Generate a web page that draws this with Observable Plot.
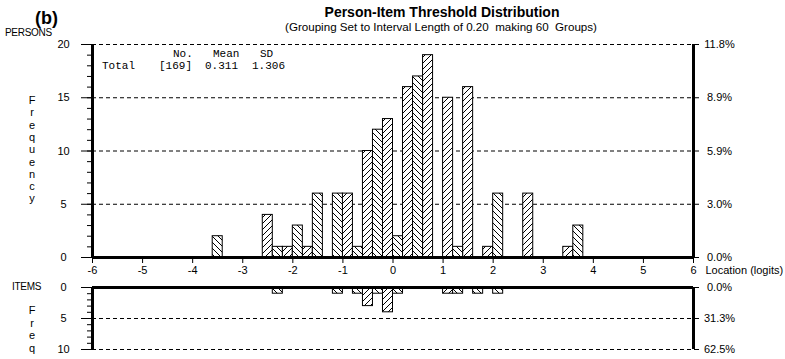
<!DOCTYPE html>
<html><head><meta charset="utf-8">
<script src="https://cdn.jsdelivr.net/npm/d3@7"></script>
<script src="https://cdn.jsdelivr.net/npm/@observablehq/plot@0.6"></script>
<style>
body{margin:0;background:#fff;}
#wrap{position:relative;width:785px;height:359px;overflow:hidden;font-family:"Liberation Sans",Arial,sans-serif;color:#000;background:#fff}
#wrap svg{position:absolute;left:0}
.t{position:absolute;white-space:pre;line-height:1}
</style></head><body>
<div id="wrap"></div>
<script>
// ---- data ----
const binWidth = 0.2;
const personBins   = [-3.6, -2.6, -2.4, -2.2, -2.0, -1.8, -1.6, -1.2, -1.0, -0.8, -0.6, -0.4, -0.2, 0.0, 0.2, 0.4, 0.6, 1.0, 1.2, 1.4, 1.8, 2.0, 2.6, 3.4, 3.6];
const personCounts = [2, 4, 1, 1, 3, 1, 6, 6, 6, 1, 10, 12, 13, 2, 16, 17, 19, 15, 1, 16, 1, 6, 6, 1, 3];
const itemBins   = [-2.4, -1.2, -0.8, -0.6, -0.4, -0.2, 0.0, 1.0, 1.2, 1.6, 2.0];
const itemCounts = [1, 1, 1, 3, 1, 4, 1, 1, 1, 1, 1];
const xTicks = [-6, -5, -4, -3, -2, -1, 0, 1, 2, 3, 4, 5, 6];
const personTicks = [0, 5, 10, 15, 20];
const personPct = ["0.0%", "3.0%", "5.9%", "8.9%", "11.8%"];
const itemTicks = [0, 5, 10];
const itemPct = ["0.0%", "31.3%", "62.5%"];
const statsHeader = ["No.", "Mean", "SD"];
const statsRow = ["Total", "[169]", "0.311", "1.306"];

const toBins = (bins, counts) => bins.map((x0, i) => ({x1: x0, x2: +(x0 + binWidth).toFixed(2), n: counts[i], k: Math.round((x0 + 6) / binWidth)}));
const persons = toBins(personBins, personCounts);
const items = toBins(itemBins, itemCounts);

const font = '"Liberation Sans", Arial, sans-serif';
const style = {fontFamily: font, fontSize: "11px", background: "transparent", overflow: "visible", color: "#000"};

function addDefs(svg, p) {
  const defs = d3.select(svg).insert("defs", ":first-child");
  const mk = (id, d) => {
    const pat = defs.append("pattern").attr("id", id).attr("patternUnits", "userSpaceOnUse").attr("width", 6).attr("height", 6);
    pat.append("rect").attr("width", 6).attr("height", 6).attr("fill", "#fff");
    pat.append("path").attr("d", d).attr("stroke", "#000").attr("stroke-width", 1).attr("fill", "none").attr("shape-rendering", "crispEdges");
  };
  mk(p + "fwd", "M-1,1 l2,-2 M0,6 l6,-6 M5,7 l2,-2");
  mk(p + "bwd", "M-1,5 l2,2 M0,0 l6,6 M5,-1 l2,2");
}

const wrap = document.getElementById("wrap");

// ---- top panel (persons) ----
const topPlot = Plot.plot({
  width: 785, height: 280, marginLeft: 92, marginRight: 92, marginTop: 44, marginBottom: 23,
  style,
  x: {domain: [-6, 6], axis: null},
  y: {domain: [0, 20], axis: null},
  marks: [
    Plot.ruleY(personTicks.filter(d => d > 0), {stroke: "#000", strokeDasharray: "4,3"}),
    Plot.rectY(persons.filter(d => d.k % 2 === 1), {x1: "x1", x2: "x2", y: "n", fill: "url(#tfwd)", stroke: "#000", strokeWidth: 1}),
    Plot.rectY(persons.filter(d => d.k % 2 === 0), {x1: "x1", x2: "x2", y: "n", fill: "url(#tbwd)", stroke: "#000", strokeWidth: 1}),
    Plot.axisY(d3.range(0, 21), {anchor: "left", tickSize: 5, fill: "none", label: null, stroke: "#000"}),
    Plot.axisY(personTicks, {anchor: "left", tickSize: 11, fill: "none", label: null, stroke: "#000"}),
    Plot.axisY(personTicks, {anchor: "right", tickSize: 5, fill: "none", label: null, stroke: "#000"}),
    Plot.axisX(xTicks, {anchor: "bottom", tickSize: 6, fill: "none", label: null, stroke: "#000"}),
    Plot.ruleX([-6, 6], {stroke: "#000", strokeWidth: 3}),
    Plot.ruleY([0], {stroke: "#000", strokeWidth: 3}),
    Plot.text(personTicks, {x: -6, y: d => d, text: d => String(d), dx: -29, textAnchor: "middle", fill: "#000"}),
    Plot.text(personTicks, {x: 6, y: d => d, text: (d, i) => personPct[i], dx: 26, textAnchor: "middle", fill: "#000"}),
    Plot.text(xTicks, {x: d => d, y: 0, dy: 13, text: d => String(d), textAnchor: "middle", fill: "#000"}),
    Plot.text(["Location (logits)"], {x: 6, y: 0, dx: 12, dy: 13, textAnchor: "start", fill: "#000"})
  ]
});
addDefs(topPlot, "t");
topPlot.style.top = "0px";
wrap.appendChild(topPlot);

// ---- bottom panel (items) ----
const botPlot = Plot.plot({
  width: 785, height: 79, marginLeft: 92, marginRight: 92, marginTop: 7, marginBottom: 10,
  style,
  x: {domain: [-6, 6], axis: null},
  y: {domain: [0, 10], range: [7, 69], axis: null},
  marks: [
    Plot.ruleY(itemTicks.filter(d => d > 0), {stroke: "#000", strokeDasharray: "4,3"}),
    Plot.rectY(items.filter(d => d.k % 2 === 1), {x1: "x1", x2: "x2", y1: 0, y2: "n", fill: "url(#bfwd)", stroke: "#000", strokeWidth: 1}),
    Plot.rectY(items.filter(d => d.k % 2 === 0), {x1: "x1", x2: "x2", y1: 0, y2: "n", fill: "url(#bbwd)", stroke: "#000", strokeWidth: 1}),
    Plot.axisY(d3.range(0, 11), {anchor: "left", tickSize: 5, fill: "none", label: null, stroke: "#000"}),
    Plot.axisY(itemTicks, {anchor: "left", tickSize: 11, fill: "none", label: null, stroke: "#000"}),
    Plot.axisY(itemTicks, {anchor: "right", tickSize: 5, fill: "none", label: null, stroke: "#000"}),
    Plot.ruleX([-6, 6], {stroke: "#000", strokeWidth: 3}),
    Plot.ruleY([0], {stroke: "#000", strokeWidth: 3}),
    Plot.text(itemTicks, {x: -6, y: d => d, text: d => String(d), dx: -29, textAnchor: "middle", fill: "#000"}),
    Plot.text(itemTicks, {x: 6, y: d => d, text: (d, i) => itemPct[i], dx: 26, textAnchor: "middle", fill: "#000"})
  ]
});
addDefs(botPlot, "b");
botPlot.style.top = "280px";
wrap.appendChild(botPlot);

// ---- titles & annotations ----
function label(txt, x, cy, css, anchor) {
  const el = document.createElement("div");
  el.className = "t";
  el.textContent = txt;
  el.style.cssText += css;
  el.style.left = x + "px";
  el.style.top = cy + "px";
  el.style.transform = anchor === "middle" ? "translate(-50%,-50%)" : "translate(0,-50%)";
  wrap.appendChild(el);
}
label("Person-Item Threshold Distribution", 442, 12, "font-weight:bold;font-size:14px;", "middle");
label("(Grouping Set to Interval Length of 0.20  making 60  Groups)", 441, 27, "font-size:11.6px;", "middle");
label("(b)", 35, 18, "font-weight:bold;font-size:18px;", "start");
label("PERSONS", 5, 33, "font-size:10px;letter-spacing:-0.3px;", "start");
label("ITEMS", 12, 287, "font-size:10px;letter-spacing:-0.3px;", "start");

const mono = 'font-family:"Liberation Mono","Courier New",monospace;font-size:11px;';
[173, 213, 260].forEach((x, i) => label(statsHeader[i], x, 54, mono, "start"));
[102, 159, 205, 252].forEach((x, i) => label(statsRow[i], x, 66, mono, "start"));

"Frequency".split("").forEach((ch, i) => label(ch, 32, 100 + i * 12.3, "font-size:11px;", "middle"));
"Freq".split("").forEach((ch, i) => label(ch, 32, 310 + i * 12.7, "font-size:11px;", "middle"));
</script>
</body></html>
